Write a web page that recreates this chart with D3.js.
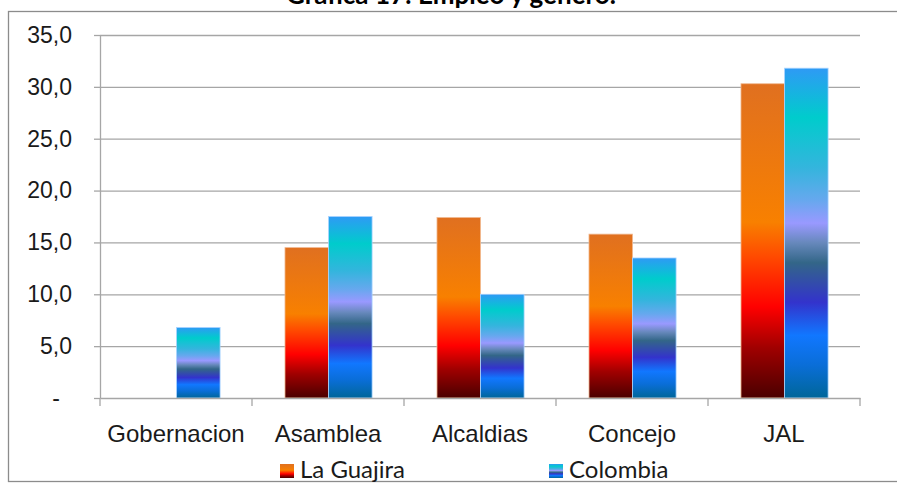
<!DOCTYPE html>
<html>
<head>
<meta charset="utf-8">
<script src="https://cdn.jsdelivr.net/npm/d3@7"></script>
<style>
  body { margin: 0; background: #fff; }
  svg { display: block; font-family: Lato, "Open Sans", sans-serif; }
  .grid line { stroke: #a6a6a6; stroke-width: 1.3; }
  .grid .domain { display: none; }
  .axis path, .axis line { stroke: #a6a6a6; stroke-width: 1.3; }
  .axis text { fill: #1a1a1a; font-size: 23px; }
  .xaxis text { font-size: 24px; }
</style>
</head>
<body>
<svg id="chart" width="897" height="483"></svg>
<script>
// values
var categories = ['Gobernacion', 'Asamblea', 'Alcaldias', 'Concejo', 'JAL'];
var seriesNames = ['La Guajira', 'Colombia'];
var laGuajira = [0, 14.5, 17.4, 15.8, 30.3];
var colombia = [6.8, 17.5, 10.0, 13.5, 31.8];
var yTicks = [0, 5, 10, 15, 20, 25, 30, 35];

var svg = d3.select('#chart');
var margin = {left: 100, right: 37, top: 35, bottom: 85};
var width = 897 - margin.left - margin.right;
var height = 483 - margin.top - margin.bottom;

// gradients, one per series, stretched over each bar
var defs = svg.append('defs');
var gradStops = {
    'La Guajira': [
        [0, '#e07020'], [0.44, '#f88000'], [0.55, '#ff4a00'],
        [0.71, '#ff0000'], [0.84, '#a00000'], [1, '#4a0000']
    ],
    'Colombia': [
        [0, '#2e9af5'], [0.15, '#00cccc'], [0.3, '#33b5dd'], [0.4, '#66a8ee'],
        [0.47, '#9999ff'], [0.53, '#6688bb'], [0.59, '#336688'], [0.71, '#3333cc'],
        [0.81, '#1177ff'], [0.9, '#0a6ed8'], [1, '#006699']
    ]
};
seriesNames.forEach(function(name, i) {
    var grad = defs.append('linearGradient')
        .attr('id', 'grad' + i)
        .attr('x1', 0).attr('y1', 0).attr('x2', 0).attr('y2', 1);
    grad.selectAll('stop')
        .data(gradStops[name])
      .enter().append('stop')
        .attr('offset', function(d) { return d[0]; })
        .attr('stop-color', function(d) { return d[1]; });
});

// outer frame and title (title sits above the frame, mostly clipped)
svg.append('rect')
    .attr('x', 8.5).attr('y', 11.5)
    .attr('width', 920).attr('height', 470)
    .attr('fill', 'none').attr('stroke', '#8c8c8c').attr('stroke-width', 1.3);
svg.append('text')
    .attr('x', 451).attr('y', 4)
    .attr('text-anchor', 'middle')
    .style('font-weight', 'bold').style('font-size', '26px')
    .text('Gráfica 17: Empleo y género.');

var g = svg.append('g')
    .attr('transform', 'translate(' + margin.left + ',' + margin.top + ')');

var x0 = d3.scaleBand().domain(categories).range([0, width]);
var x1 = d3.scaleBand().domain(seriesNames)
    .range([x0.bandwidth() * 0.217, x0.bandwidth() * 0.79]);
var y = d3.scaleLinear().domain([0, 35]).range([height, 0]);

// gridlines
g.append('g')
    .attr('class', 'grid')
    .call(d3.axisLeft(y).tickValues(yTicks.slice(1)).tickSize(-width).tickFormat(''));

var fmt = function(d) { return d === 0 ? '-' : d.toFixed(1).replace('.', ','); };

var yAxis = g.append('g')
    .attr('class', 'axis')
    .call(d3.axisLeft(y).tickValues(yTicks).tickSize(6).tickSizeOuter(0)
        .tickPadding(22).tickFormat(fmt));
yAxis.selectAll('.tick text')
    .attr('dx', function(d) { return d === 0 ? -12 : 0; });

var xAxis = g.append('g')
    .attr('class', 'axis xaxis')
    .attr('transform', 'translate(0,' + height + ')')
    .call(d3.axisBottom(x0).tickSize(0).tickPadding(27));
// category boundary ticks
xAxis.selectAll('.sep')
    .data(d3.range(categories.length + 1))
  .enter().append('line')
    .attr('class', 'sep')
    .attr('x1', function(i) { return i * x0.bandwidth(); })
    .attr('x2', function(i) { return i * x0.bandwidth(); })
    .attr('y1', 0).attr('y2', 8);

// bars
var rows = categories.map(function(c, i) {
    return {cat: c, values: [laGuajira[i], colombia[i]]};
});
var groups = g.selectAll('.group')
    .data(rows)
  .enter().append('g')
    .attr('class', 'group')
    .attr('transform', function(d) { return 'translate(' + x0(d.cat) + ',0)'; });
groups.selectAll('rect')
    .data(function(d) {
        return d.values.map(function(v, i) { return {name: seriesNames[i], idx: i, value: v}; });
    })
  .enter().append('rect')
    .filter(function(d) { return d.value > 0; })
    .attr('x', function(d) { return x1(d.name); })
    .attr('width', x1.bandwidth())
    .attr('y', function(d) { return y(d.value); })
    .attr('height', function(d) { return height - y(d.value); })
    .attr('fill', function(d) { return 'url(#grad' + d.idx + ')'; })
    .attr('stroke', function(d) { return d.idx ? '#a8d4ff' : '#f0b890'; })
    .attr('stroke-width', 0.8);

// raise the axis line above bars
xAxis.raise();

// legend
var legendX = [280, 549];
var legend = svg.selectAll('.legend')
    .data(seriesNames)
  .enter().append('g')
    .attr('class', 'legend')
    .attr('transform', function(d, i) { return 'translate(' + legendX[i] + ',464)'; });
legend.append('rect')
    .attr('width', 14).attr('height', 14)
    .attr('fill', function(d, i) { return 'url(#grad' + i + ')'; });
legend.append('text')
    .attr('x', 20).attr('y', 14)
    .style('font-size', '24px').style('fill', '#1a1a1a')
    .text(function(d) { return d; });
</script>
</body>
</html>
